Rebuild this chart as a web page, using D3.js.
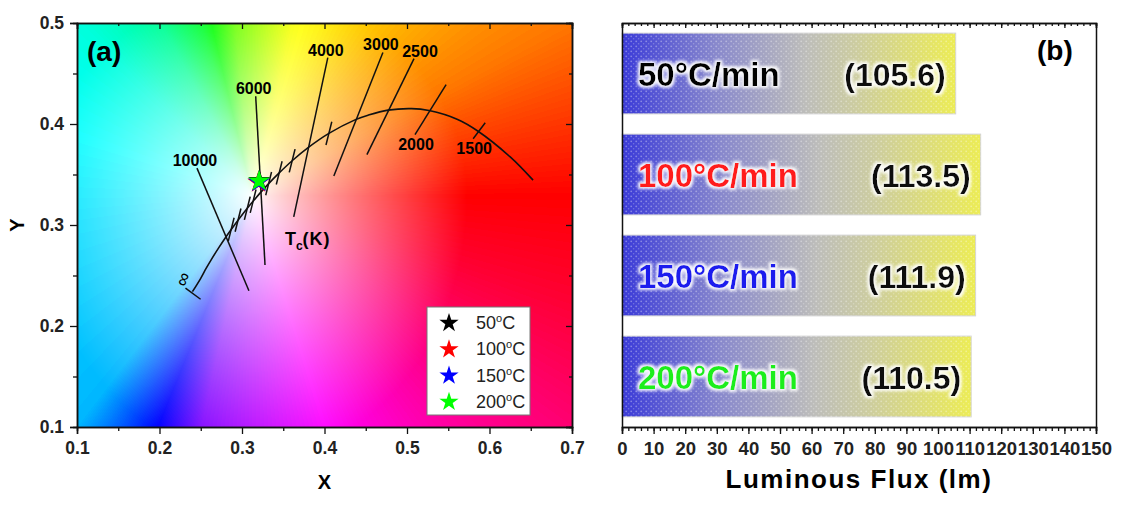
<!DOCTYPE html>
<html>
<head>
<meta charset="utf-8">
<script src="https://cdn.jsdelivr.net/npm/d3@7"></script>
<style>
  body { margin: 0; background: #fff; }
  svg { display: block; font-family: "Liberation Sans", Arial, sans-serif; }
</style>
</head>
<body>
<svg width="1143" height="506"></svg>
<script>
// ---------- panel (a) data : CIE 1931 chromaticity ----------
const locusT = [1000, 1200, 1500, 1700, 2000, 2200, 2500, 2800, 3000, 3500, 4000, 4500, 5000, 5500,
                6000, 6500, 7000, 8000, 9000, 10000, 12000, 15000, 20000, 30000, Infinity];
const locusX = [0.6528, 0.6251, 0.5857, 0.5614, 0.5267, 0.5056, 0.4770, 0.4528, 0.4369, 0.4053, 0.3805, 0.3608, 0.3451, 0.3323,
                0.3221, 0.3135, 0.3064, 0.2952, 0.2869, 0.2807, 0.2719, 0.2637, 0.2565, 0.2498, 0.2399];
const locusY = [0.3444, 0.3674, 0.3931, 0.4045, 0.4133, 0.4152, 0.4137, 0.4087, 0.4041, 0.3907, 0.3768, 0.3636, 0.3516, 0.3410,
                0.3318, 0.3236, 0.3166, 0.3048, 0.2956, 0.2884, 0.2776, 0.2670, 0.2570, 0.2470, 0.2340];

// labelled iso-temperature lines (upper and lower end, chromaticity units)
const isoLabels = ["10000", "6000", "4000", "3000", "2500", "2000", "1500"];
const isoTop = [[0.2454, 0.3563], [0.3166, 0.4274], [0.4040, 0.4658], [0.4708, 0.4708], [0.5085, 0.4648], [0.5474, 0.4390], [0.5948, 0.4013]];
const isoBottom = [[0.3084, 0.2349], [0.3279, 0.2604], [0.3627, 0.3080], [0.4113, 0.3485], [0.4514, 0.3696], [0.5097, 0.3894], [0.5802, 0.3854]];
const infTick = [[0.2315, 0.2376], [0.2498, 0.2265]];
// short unlabelled ticks on the locus
const minorIsoT = [9000, 8000, 7000, 6500, 5500, 5000, 4500, 3500];

const samples = ["50", "100", "150", "200"];
const sampleX = [0.3210, 0.3199, 0.3205, 0.3207];
const sampleY = [0.3440, 0.3423, 0.3426, 0.3436];
const sampleColors = ["#000000", "#ff0000", "#0000ff", "#00ff00"];

const xTicksA = [0.1, 0.2, 0.3, 0.4, 0.5, 0.6, 0.7];
const yTicksA = [0.1, 0.2, 0.3, 0.4, 0.5];

// ---------- panel (b) data : luminous flux ----------
const rates = ["50", "100", "150", "200"];
const flux = [105.6, 113.5, 111.9, 110.5];
const rateColors = ["#000000", "#ff1a1a", "#1a1aee", "#1aee1a"];
const xTicksB = [0, 10, 20, 30, 40, 50, 60, 70, 80, 90, 100, 110, 120, 130, 140, 150];

const svg = d3.select("svg");
const font = "'Liberation Sans', Arial, sans-serif";

// ================= panel (a) =================
const xA = d3.scaleLinear().domain([0.1, 0.7]).range([77, 572]);
const yA = d3.scaleLinear().domain([0.1, 0.5]).range([427, 23]);

// colour background, painted on a canvas then placed in the svg
const pw = xA.range()[1] - xA.range()[0];
const ph = yA.range()[0] - yA.range()[1];
const canvas = document.createElement("canvas");
canvas.width = pw;
canvas.height = ph;
const ctx = canvas.getContext("2d");
const img = ctx.createImageData(pw, ph);
const hueOf = d3.scaleLinear()
  .domain([0, 24, 63, 74, 97, 110, 123, 141, 188, 227, 238, 255, 291, 316, 329, 345, 360])
  .range([0, 28, 56, 62, 95, 130, 155, 172, 188, 197, 226, 270, 300, 322, 333, 348, 360]);
const hueRGB = d3.range(361).map(h => d3.rgb(d3.hsl(h, 1, 0.5)));
for (let j = 0; j < ph; j++) {
  for (let i = 0; i < pw; i++) {
    const cx = xA.invert(xA.range()[0] + i + 0.5);
    const cy = yA.invert(yA.range()[1] + j + 0.5);
    const dx = cx - 0.3127, dy = cy - 0.329;
    const ang = (Math.atan2(dy, dx) * 180 / Math.PI + 360) % 360;
    const dist = Math.hypot(dx, dy > 0 ? dy * 1.3 : dy);
    const s = Math.pow(Math.min(1, dist / 0.26), 0.85);
    const c = hueRGB[Math.round(hueOf(ang))];
    const k = (j * pw + i) * 4;
    img.data[k] = 255 + (c.r - 255) * s;
    img.data[k + 1] = 255 + (c.g - 255) * s;
    img.data[k + 2] = 255 + (c.b - 255) * s;
    img.data[k + 3] = 255;
  }
}
ctx.putImageData(img, 0, 0);

const gA = svg.append("g");
gA.append("image")
  .attr("href", canvas.toDataURL())
  .attr("x", xA.range()[0])
  .attr("y", yA.range()[1])
  .attr("width", pw)
  .attr("height", ph)
  .attr("preserveAspectRatio", "none");

function styleAxis(g, size = 17) {
  g.select(".domain").attr("stroke", "#111").attr("stroke-width", 1.5);
  g.selectAll(".tick line").attr("stroke", "#111").attr("stroke-width", 1.3);
  g.selectAll(".tick text")
    .attr("fill", "#222")
    .style("font-family", font)
    .style("font-weight", "bold")
    .style("font-size", size + "px");
}

const minorXA = d3.range(0.15, 0.7, 0.1);
const minorYA = d3.range(0.15, 0.5, 0.1);

gA.append("g").attr("transform", `translate(0,${yA(0.1)})`)
  .call(d3.axisBottom(xA).tickValues(minorXA).tickSize(4).tickFormat("")).call(styleAxis);
gA.append("g").attr("transform", `translate(0,${yA(0.1)})`)
  .call(d3.axisBottom(xA).tickValues(xTicksA).tickFormat(d3.format(".1f")).tickSize(7).tickPadding(8)).call(styleAxis, 17.5);
gA.append("g").attr("transform", `translate(0,${yA(0.5)})`)
  .call(d3.axisTop(xA).tickValues(minorXA).tickSize(-3).tickFormat("")).call(styleAxis);
gA.append("g").attr("transform", `translate(0,${yA(0.5)})`)
  .call(d3.axisTop(xA).tickValues(xTicksA).tickSize(-6).tickFormat("")).call(styleAxis);

gA.append("g").attr("transform", `translate(${xA(0.1)},0)`)
  .call(d3.axisLeft(yA).tickValues(minorYA).tickSize(4).tickFormat("")).call(styleAxis);
gA.append("g").attr("transform", `translate(${xA(0.1)},0)`)
  .call(d3.axisLeft(yA).tickValues(yTicksA).tickFormat(d3.format(".1f")).tickSize(7).tickPadding(6)).call(styleAxis, 17.5);
gA.append("g").attr("transform", `translate(${xA(0.7)},0)`)
  .call(d3.axisRight(yA).tickValues(minorYA).tickSize(-3).tickFormat("")).call(styleAxis);
gA.append("g").attr("transform", `translate(${xA(0.7)},0)`)
  .call(d3.axisRight(yA).tickValues(yTicksA).tickSize(-6).tickFormat("")).call(styleAxis);

gA.append("text")
  .attr("x", (xA.range()[0] + xA.range()[1]) / 2)
  .attr("y", 489)
  .attr("text-anchor", "middle")
  .style("font-family", font).style("font-weight", "bold").style("font-size", "20px")
  .text("X");

gA.append("text")
  .attr("transform", `translate(24,${(yA.range()[0] + yA.range()[1]) / 2}) rotate(-90)`)
  .attr("text-anchor", "middle")
  .style("font-family", font).style("font-weight", "bold").style("font-size", "20px")
  .text("Y");

// Planckian locus
const locus = locusT.map((t, i) => ({ t, x: locusX[i], y: locusY[i] }));
gA.append("path")
  .datum(locus)
  .attr("fill", "none")
  .attr("stroke", "#111")
  .attr("stroke-width", 1.6)
  .attr("d", d3.line().x(d => xA(d.x)).y(d => yA(d.y)).curve(d3.curveCatmullRom));

// short ticks on the locus
const tilt = 14 * Math.PI / 180;
const minorIso = locus.filter(d => minorIsoT.includes(d.t));
gA.selectAll("line.minoriso")
  .data(minorIso)
  .join("line")
  .attr("class", "minoriso")
  .attr("x1", d => xA(d.x) + 12 * Math.sin(tilt))
  .attr("y1", d => yA(d.y) - 12 * Math.cos(tilt))
  .attr("x2", d => xA(d.x) - 12 * Math.sin(tilt))
  .attr("y2", d => yA(d.y) + 12 * Math.cos(tilt))
  .attr("stroke", "#111")
  .attr("stroke-width", 1.5);

// labelled isotherms
const iso = isoLabels.map((t, i) => ({ t, top: isoTop[i], bot: isoBottom[i] }));
gA.selectAll("line.iso")
  .data(iso)
  .join("line")
  .attr("class", "iso")
  .attr("x1", d => xA(d.top[0]))
  .attr("y1", d => yA(d.top[1]))
  .attr("x2", d => xA(d.bot[0]))
  .attr("y2", d => yA(d.bot[1]))
  .attr("stroke", "#111")
  .attr("stroke-width", 1.5);

gA.selectAll("text.iso")
  .data(iso)
  .join("text")
  .attr("class", "iso")
  .attr("text-anchor", "middle")
  .attr("x", d => {
    const below = +d.t <= 2000;
    return xA(below ? d.bot[0] : d.top[0]) + (d.t === "2500" ? 6 : below ? 1 : -2);
  })
  .attr("y", d => (+d.t <= 2000 ? yA(d.bot[1]) + 15 : yA(d.top[1]) - 2))
  .style("font-family", font).style("font-weight", "bold").style("font-size", "16px")
  .text(d => d.t);

// infinity end of the locus
gA.append("line")
  .attr("x1", xA(infTick[0][0])).attr("y1", yA(infTick[0][1]))
  .attr("x2", xA(infTick[1][0])).attr("y2", yA(infTick[1][1]))
  .attr("stroke", "#111").attr("stroke-width", 1.5);
gA.append("text")
  .attr("transform", `translate(${xA(infTick[0][0]) - 3},${yA(infTick[0][1]) - 9}) rotate(-70)`)
  .attr("text-anchor", "middle")
  .attr("dy", "0.35em")
  .style("font-family", font).style("font-size", "19px")
  .text("∞");

const tc = gA.append("text")
  .attr("x", xA(0.352))
  .attr("y", yA(0.2805))
  .style("font-family", font).style("font-weight", "bold").style("font-size", "18px");
tc.append("tspan").text("T");
tc.append("tspan").attr("dy", 5).style("font-size", "12px").text("c");
tc.append("tspan").attr("dy", -5).attr("letter-spacing", 1).text("(K)");

// sample points
const star = d3.symbol().type(d3.symbolStar);
gA.selectAll("path.sample")
  .data(samples)
  .join("path")
  .attr("class", "sample")
  .attr("transform", (d, i) => `translate(${xA(sampleX[i])},${yA(sampleY[i])})`)
  .attr("d", star.size(150)())
  .attr("fill", (d, i) => sampleColors[i]);

// legend
const lg = gA.append("g")
  .attr("transform", `translate(${xA.range()[1] - 145},${yA.range()[0] - 120})`);
lg.append("rect")
  .attr("width", 103).attr("height", 108)
  .attr("fill", "#fff").attr("stroke", "#777").attr("stroke-width", 1);
const lgRow = lg.selectAll("g")
  .data(samples)
  .join("g")
  .attr("transform", (d, i) => `translate(0,${16 + i * 26.3})`);
lgRow.append("path")
  .attr("transform", "translate(22,0)")
  .attr("d", star.size(115)())
  .attr("fill", (d, i) => sampleColors[i]);
const lgText = lgRow.append("text")
  .attr("x", 49)
  .attr("y", 6)
  .attr("fill", "#222")
  .style("font-family", font).style("font-size", "18px");
lgText.append("tspan").text(d => d);
lgText.append("tspan").attr("dy", -7).style("font-size", "11px").text("o");
lgText.append("tspan").attr("dy", 7).text("C");

gA.append("text")
  .attr("x", xA.range()[0] + 10)
  .attr("y", 61)
  .style("font-family", font).style("font-weight", "bold").style("font-size", "28px")
  .text("(a)");

// ================= panel (b) =================
const xB = d3.scaleLinear().domain([0, 150]).range([622, 1096]);
const yB = d3.scaleBand().domain(rates).range([23, 427]).paddingInner(0.2).paddingOuter(0.1);

const defs = svg.append("defs");
const grad = defs.append("linearGradient").attr("id", "barGrad");
[[0, "#3a3ad8"], [0.28, "#8888cc"], [0.55, "#bdbdba"], [0.7, "#cccca0"], [1, "#ecec55"]]
  .forEach(s => grad.append("stop").attr("offset", s[0]).attr("stop-color", s[1]));

const speck = defs.append("pattern")
  .attr("id", "speckle")
  .attr("patternUnits", "userSpaceOnUse")
  .attr("width", 5).attr("height", 5);
speck.append("circle").attr("cx", 1.2).attr("cy", 1.3).attr("r", 0.9).attr("fill", "#fff").attr("opacity", 0.35);
speck.append("circle").attr("cx", 3.6).attr("cy", 3.7).attr("r", 0.8).attr("fill", "#fff").attr("opacity", 0.25);

const glow = defs.append("filter").attr("id", "glow").attr("x", "-10%").attr("y", "-30%").attr("width", "120%").attr("height", "160%");
glow.append("feMorphology").attr("in", "SourceAlpha").attr("operator", "dilate").attr("radius", 1.6).attr("result", "thick");
glow.append("feGaussianBlur").attr("in", "thick").attr("stdDeviation", 1.4).attr("result", "blur");
glow.append("feFlood").attr("flood-color", "#fff").attr("flood-opacity", 0.95);
glow.append("feComposite").attr("in2", "blur").attr("operator", "in").attr("result", "halo");
const merge = glow.append("feMerge");
merge.append("feMergeNode").attr("in", "halo");
merge.append("feMergeNode").attr("in", "SourceGraphic");

const gB = svg.append("g");

gB.selectAll("rect.bar")
  .data(rates)
  .join("rect")
  .attr("class", "bar")
  .attr("x", xB(0))
  .attr("y", d => yB(d))
  .attr("width", (d, i) => xB(flux[i]) - xB(0))
  .attr("height", yB.bandwidth())
  .attr("fill", "url(#barGrad)")
  .attr("stroke", "#d4d4d4")
  .attr("stroke-width", 1);

gB.selectAll("rect.speck")
  .data(rates)
  .join("rect")
  .attr("class", "speck")
  .attr("x", xB(0))
  .attr("y", d => yB(d))
  .attr("width", (d, i) => xB(flux[i]) - xB(0))
  .attr("height", yB.bandwidth())
  .attr("fill", "url(#speckle)");

gB.selectAll("text.cat")
  .data(rates)
  .join("text")
  .attr("class", "cat")
  .attr("x", xB(0) + 16)
  .attr("y", d => yB(d) + yB.bandwidth() / 2 + 12)
  .attr("fill", (d, i) => rateColors[i])
  .attr("filter", "url(#glow)")
  .style("font-family", font).style("font-weight", "bold").style("font-size", "33px")
  .text(d => `${d}°C/min`);

gB.selectAll("text.val")
  .data(rates)
  .join("text")
  .attr("class", "val")
  .attr("x", (d, i) => xB(flux[i]) - 10)
  .attr("y", d => yB(d) + yB.bandwidth() / 2 + 12)
  .attr("text-anchor", "end")
  .attr("fill", "#111")
  .attr("filter", "url(#glow)")
  .style("font-family", font).style("font-weight", "bold").style("font-size", "32px")
  .text((d, i) => `(${flux[i].toFixed(1)})`);

const minorXB = d3.range(0, 151, 2);
const bottomB = yB.range()[1];
const topB = yB.range()[0];
gB.append("g").attr("transform", `translate(0,${bottomB})`)
  .call(d3.axisBottom(xB).tickValues(minorXB).tickSize(4).tickFormat("")).call(styleAxis);
gB.append("g").attr("transform", `translate(0,${bottomB})`)
  .call(d3.axisBottom(xB).tickValues(xTicksB).tickSize(7).tickPadding(8)).call(styleAxis, 18.5);
gB.append("g").attr("transform", `translate(0,${topB})`)
  .call(d3.axisTop(xB).tickValues(minorXB).tickSize(-3).tickFormat("")).call(styleAxis);
gB.append("g").attr("transform", `translate(0,${topB})`)
  .call(d3.axisTop(xB).tickValues(xTicksB).tickSize(-5).tickFormat("")).call(styleAxis);
gB.append("g").attr("transform", `translate(${xB(0)},0)`)
  .call(d3.axisLeft(yB).tickSize(0).tickFormat("")).call(styleAxis);
gB.append("g").attr("transform", `translate(${xB(150)},0)`)
  .call(d3.axisRight(yB).tickSize(0).tickFormat("")).call(styleAxis);

gB.append("text")
  .attr("x", (xB.range()[0] + xB.range()[1]) / 2)
  .attr("y", 488)
  .attr("text-anchor", "middle")
  .attr("letter-spacing", 1.5)
  .style("font-family", font).style("font-weight", "bold").style("font-size", "26px")
  .text("Luminous Flux (lm)");

gB.append("text")
  .attr("x", xB.range()[1] - 59)
  .attr("y", 60)
  .style("font-family", font).style("font-weight", "bold").style("font-size", "28px")
  .text("(b)");
</script>
</body>
</html>
